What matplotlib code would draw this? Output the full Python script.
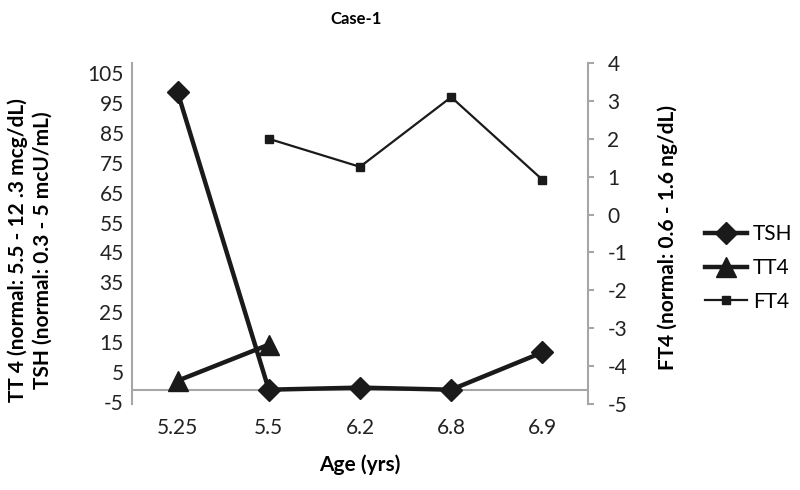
import matplotlib
matplotlib.use('Agg')
import matplotlib.pyplot as plt
import numpy as np

plt.rcParams['font.family'] = ['Lato', 'DejaVu Sans']
plt.rcParams['axes.unicode_minus'] = False

# data
ages = ['5.25', '5.5', '6.2', '6.8', '6.9']
tsh = [98.7, -1.0, -0.3, -1.0, 11.5]
tt4 = [2.0, 14.1, np.nan, np.nan, np.nan]
ft4 = [np.nan, 2.0, 1.26, 3.1, 0.92]
left_ticks = list(range(-5, 106, 10))
right_ticks = list(range(-5, 5))

dark = '#1a1a1a'
grey = '#a6a6a6'
fs = 15

fig = plt.figure(figsize=(8, 4.9), dpi=100)
ax = fig.add_axes([0.165, 0.1755, 0.57, 0.6959])
ax2 = ax.twinx()
x = np.arange(len(ages))

l1, = ax.plot(x, tsh, color=dark, lw=3.2, marker='D', ms=11, label='TSH')
l2, = ax.plot(x, tt4, color=dark, lw=3.2, marker='^', ms=14, label='TT4')
l3, = ax2.plot(x, ft4, color=dark, lw=1.6, marker='s', ms=5.5, label='FT4')

ax.set_xlim(-0.5, len(ages) - 0.5)
ax.set_ylim(-5.8, 108.5)
ax.set_yticks(left_ticks)
ax2.set_ylim(-5, 4)
ax2.set_yticks(right_ticks)
ax.set_xticks(x)
ax.set_xticklabels(ages)

# horizontal axis line
ax.axhline(-1, color=grey, lw=1.5, zorder=0)

for a in (ax, ax2):
    for s in ('top', 'bottom'):
        a.spines[s].set_visible(False)
    for s in ('left', 'right'):
        a.spines[s].set_color(grey)
        a.spines[s].set_linewidth(1.5)
ax.spines['right'].set_visible(False)
ax2.spines['left'].set_visible(False)

ax.tick_params(axis='y', length=0, labelsize=fs, colors='#222222', pad=6)
ax.tick_params(axis='x', length=0, labelsize=fs, colors='#222222', pad=10)
ax2.tick_params(axis='y', length=4, width=1.5, color=grey, labelsize=fs,
                labelcolor='#222222', pad=10)

ax.set_xlabel('Age (yrs)', fontsize=fs, fontweight='bold', labelpad=12)
fig.text(0.022, 0.49, 'TT 4 (normal: 5.5 - 12 .3 mcg/dL)', rotation=90,
         fontsize=fs, fontweight='bold', ha='center', va='center')
fig.text(0.053, 0.49, 'TSH (normal: 0.3 - 5 mcU/mL)', rotation=90,
         fontsize=fs, fontweight='bold', ha='center', va='center')
fig.text(0.835, 0.516, 'FT4 (normal: 0.6 - 1.6 ng/dL)', rotation=90,
         fontsize=fs, fontweight='bold', ha='center', va='center')
fig.text(0.445, 0.962, 'Case-1', fontsize=12, fontweight='bold',
         ha='center', va='center')

fig.legend(handles=[l1, l2, l3], loc='center left',
           bbox_to_anchor=(0.876, 0.453), frameon=False, fontsize=fs,
           handlelength=2.0, labelspacing=0.65, handletextpad=0.3,
           borderaxespad=0, borderpad=0.2)

fig.savefig('out.png', dpi=100)
